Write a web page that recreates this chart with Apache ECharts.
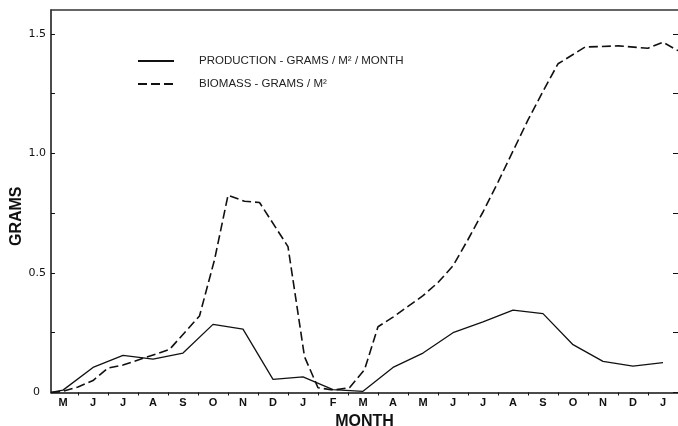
<!DOCTYPE html>
<html>
<head>
<meta charset="utf-8">
<title>Production and biomass by month</title>
<script src="https://cdn.jsdelivr.net/npm/echarts@6/dist/echarts.min.js"></script>
<style>
  html, body { margin: 0; padding: 0; background: #ffffff; }
  #chart { width: 678px; height: 426px; }
</style>
</head>
<body>
<div id="chart"></div>
<script>
// Month letters shown under the axis (May of year one through January two years later)
const monthLabels = ['M','J','J','A','S','O','N','D','J','F','M','A','M','J','J','A','S','O','N','D','J'];
const monthCenters = [0,1,2,3,4,5,6,7,8,9,10,11,12,13,14,15,16,17,18,19,20];
const monthBoundaries = [0.5,1.5,2.5,3.5,4.5,5.5,6.5,7.5,8.5,9.5,10.5,11.5,12.5,13.5,14.5,15.5,16.5,17.5,18.5,19.5];

// Y axis ticks and labels (grams)
const gramTicks = [0, 0.25, 0.5, 0.75, 1.0, 1.25, 1.5];
const gramLabels = [0, 0.5, 1.0, 1.5];

// Production, grams / m^2 / month (x = month position)
const productionPos = [-0.4, 0, 1, 2, 3, 4, 5, 6, 7, 8, 9, 10, 11, 12, 13, 14, 15, 16, 17, 18, 19, 20];
const productionVals = [0, 0.01, 0.105, 0.155, 0.14, 0.165, 0.285, 0.265, 0.055, 0.065, 0.012, 0.005,
                        0.105, 0.165, 0.25, 0.295, 0.345, 0.33, 0.2, 0.13, 0.11, 0.125];

// Biomass, grams / m^2 (x = month position)
const biomassPos = [-0.4, 0, 0.5, 1, 1.5, 2, 3.55, 4.55, 5.05, 5.5, 6.05, 6.55, 7.5, 8.05, 8.5, 9, 9.55,
                    10.05, 10.5, 11, 11.5, 12, 12.5, 13, 13.5, 14, 14.5, 15, 15.5, 16, 16.5, 17.4, 18.5,
                    19.5, 20, 20.5];
const biomassVals = [0, 0.005, 0.023, 0.05, 0.102, 0.115, 0.18, 0.32, 0.555, 0.825, 0.8, 0.795, 0.61, 0.15,
                     0.02, 0.01, 0.02, 0.095, 0.275, 0.315, 0.36, 0.405, 0.46, 0.53, 0.64, 0.755, 0.88,
                     1.01, 1.14, 1.26, 1.375, 1.445, 1.45, 1.44, 1.465, 1.43];

const pair = (xs, ys) => xs.map((x, i) => [x, ys[i]]);

const ink = '#111111';
const chart = echarts.init(document.getElementById('chart'), null, { renderer: 'canvas' });

chart.setOption({
  backgroundColor: '#ffffff',
  animation: false,
  grid: { left: 51, right: 0, top: 10, bottom: 33.5, containLabel: false, outerBoundsMode: 'none' },
  legend: {
    orient: 'vertical',
    left: 137,
    top: 55,
    padding: 0,
    itemWidth: 36,
    itemHeight: 14,
    itemGap: 11,
    selectedMode: false,
    itemStyle: { opacity: 0 },
    textStyle: {
      fontFamily: 'Liberation Sans, Arial, sans-serif',
      fontSize: 11.5,
      color: '#222222',
      padding: [0, 0, 0, 20]
    },
    data: ['PRODUCTION - GRAMS / M² / MONTH', 'BIOMASS - GRAMS / M²']
  },
  xAxis: [
    {
      type: 'value',
      position: 'bottom',
      min: -0.4,
      max: 20.5,
      splitLine: { show: false },
      axisLine: { show: true, onZero: false, lineStyle: { color: ink, width: 1.5 } },
      axisTick: {
        show: true,
        customValues: monthBoundaries,
        length: 3,
        lineStyle: { color: ink, width: 1 }
      },
      axisLabel: {
        customValues: monthCenters,
        formatter: (v) => monthLabels[Math.round(v)],
        margin: 5,
        color: ink,
        fontFamily: 'Liberation Sans, Arial, sans-serif',
        fontWeight: 'bold',
        fontSize: 11
      },
      name: 'MONTH',
      nameLocation: 'middle',
      nameGap: 20,
      nameTextStyle: {
        color: ink,
        fontFamily: 'Liberation Sans, Arial, sans-serif',
        fontWeight: 'bold',
        fontSize: 16
      }
    },
    {
      type: 'value',
      position: 'top',
      min: -0.4,
      max: 20.5,
      splitLine: { show: false },
      axisLine: { show: true, onZero: false, lineStyle: { color: '#333333', width: 1.5 } },
      axisTick: { show: false },
      axisLabel: { show: false }
    }
  ],
  yAxis: [
    {
      type: 'value',
      position: 'left',
      min: 0,
      max: 1.6,
      splitLine: { show: false },
      axisLine: { show: true, onZero: false, lineStyle: { color: ink, width: 1.5 } },
      axisTick: {
        show: true,
        inside: true,
        length: 4,
        customValues: gramTicks,
        lineStyle: { color: ink, width: 1 }
      },
      axisLabel: {
        customValues: gramLabels,
        formatter: (v) => (v === 0 ? '{zero|0}' : v.toFixed(1)),
        margin: 5,
        color: ink,
        fontFamily: 'DejaVu Sans, sans-serif',
        fontSize: 11,
        rich: {
          zero: {
            color: ink,
            fontFamily: 'DejaVu Sans, sans-serif',
            fontSize: 11,
            padding: [0, 6, 0, 0]
          }
        }
      },
      name: 'GRAMS',
      nameLocation: 'middle',
      nameGap: 26,
      nameMoveOverlap: false,
      nameTextStyle: {
        color: ink,
        fontFamily: 'Liberation Sans, Arial, sans-serif',
        fontWeight: 'bold',
        fontSize: 16,
        padding: [0, 30, 0, 0]
      }
    },
    {
      type: 'value',
      position: 'right',
      min: 0,
      max: 1.6,
      splitLine: { show: false },
      axisLine: { show: false, onZero: false },
      axisTick: {
        show: true,
        inside: true,
        length: 5,
        customValues: gramTicks,
        lineStyle: { color: ink, width: 1 }
      },
      axisLabel: { show: false }
    }
  ],
  series: [
    {
      name: 'PRODUCTION - GRAMS / M² / MONTH',
      type: 'line',
      xAxisIndex: 0,
      yAxisIndex: 0,
      symbol: 'none',
      smooth: false,
      lineStyle: { color: ink, width: 1.3, type: 'solid' },
      itemStyle: { color: ink },
      data: pair(productionPos, productionVals)
    },
    {
      name: 'BIOMASS - GRAMS / M²',
      type: 'line',
      xAxisIndex: 0,
      yAxisIndex: 0,
      symbol: 'none',
      smooth: false,
      lineStyle: { color: ink, width: 1.6, type: [9, 4] },
      itemStyle: { color: ink },
      data: pair(biomassPos, biomassVals)
    }
  ]
});
</script>
</body>
</html>
